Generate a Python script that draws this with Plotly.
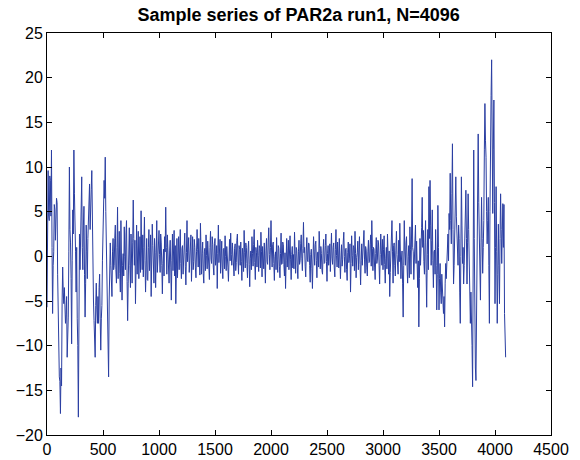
import plotly.graph_objects as go

# Sample series (N=4096), every 5th sample.
values_0000_0595 = [
    -5.7, 3.0, 9.6, 4.5, 4.0, 9.0, 8.5, 4.5, 11.9, 1.0, -6.4, -1.0, 0.5, 5.8, 5.2, 1.8, 3.7, 6.5, 6.0, -2.0,
    -8.3, -6.5, -13.5, -14.0, -17.6, -12.5, -14.5, -5.0, -1.2, -4.0, -5.3, -3.5, -4.9, -7.5, -6.5, -4.5, -11.3, -8.5, -6.8, 0.5,
    10.0, 3.0, 1.5, -2.5, -9.8, -0.5, 5.2, 2.5, 11.9, 7.0, 5.0, 0.5, -4.0, 1.0, -7.0, -10.0, -18.0, -9.0, 2.5, -1.5,
    2.8, 6.5, 8.9, 1.0, -1.5, 3.5, 5.6, -2.0, -6.8, -3.0, 3.5, 0.5, -2.5, 2.0, 4.0, 7.0, 8.1, 3.0, 4.5, 7.5,
    9.6, 3.0, 0.5, -5.0, -7.2, -9.5, -11.3, -5.5, -3.0, -6.0, -7.5, -4.5, -7.5, -3.5, -2.0, -7.0, -10.5, -7.0, -5.5, -0.5,
    2.5, 4.5, 8.5, 6.5, 11.1, 5.0, 1.5, -4.0, -7.2, -9.0, -13.5, -5.0, -1.5, 1.5, -1.0, -3.5, -4.5, 0.5, 2.0, -1.5,
]
values_0600_3495 = [
    -1.0, 2.0, 3.5, -1.5, -3.0, 1.0, 5.5, -2.5, 0.5, 2.8, -1.9, -4.0, 4.0, 1.2, -4.9, -1.0, 0.3, -2.2, 3.3, 0.0,
    -1.5, 2.5, 4.0, -2.8, -7.2, -3.0, 1.0, 3.2, -1.0, -3.5, 2.5, 0.2, -3.0, 1.5, 6.3, 2.0, -1.0, 1.8, -5.3, -1.2,
    3.5, -2.0, 0.0, 2.8, -2.5, -0.5, 2.2, -1.8, 5.1, 0.6, -1.5, 2.4, -2.3, 1.0, 4.4, -0.5, -4.0, -1.2, 2.0, -2.6,
    -2.7, 1.0, 3.0, -1.6, 0.5, 2.4, -4.5, -0.6, 3.6, 1.2, -0.8, -3.0, 2.0, 0.4, -3.5, 1.5, 4.0, -1.8, 0.3, 2.6,
    2.9, 0.2, -1.8, 2.5, 1.5, -1.0, -4.2, -0.8, 0.8, -2.2, 2.2, 0.5, 5.5, 1.0, -2.0, 2.4, 1.0, -1.5, -3.0, 0.6,
    1.8, -1.2, -4.9, -0.5, 2.5, -1.6, 0.0, 2.9, -2.2, 1.2, -5.3, -1.0, 2.0, -2.4, 0.5, 2.2, -1.5, 0.8, 3.0, -0.8,
    -2.5, 0.9, 1.2, -2.0, -0.5, 1.4, 2.6, -1.1, -3.2, 0.4, 4.0, -0.6, 0.8, 2.1, -1.8, -0.2, 1.5, 2.4, -2.8, 0.7,
    2.2, -1.5, -0.6, 1.9, 1.0, -1.3, -2.4, 0.5, 3.0, 0.8, -1.2, 2.0, 0.4, -2.1, 3.7, 1.1, -2.0, 0.3, 1.6, -1.9,
    -3.0, 0.5, 0.9, -1.6, 2.4, 0.1, -1.4, 1.7, 0.2, -0.9, -2.6, 1.0, 2.8, -0.3, -0.8, 2.2, 1.3, -1.2, -2.1, 1.4,
    2.0, -1.0, -0.4, 1.2, -3.6, 0.3, 3.5, -0.7, 0.6, 1.9, -1.9, 0.4, 1.7, -1.2, -2.5, 0.8, 0.9, -1.4, 2.3, 0.0,
    -1.6, 1.1, 0.3, -1.2, -2.8, 0.6, 1.9, -0.5, 2.6, 0.2, -1.0, 1.5, 0.5, -1.1, -2.2, 0.9, 1.4, -1.6, -0.7, 1.8,
    2.5, -0.3, -2.0, 1.2, 0.8, -1.0, 1.6, -0.6, -2.7, 0.9, 0.2, -1.7, 2.9, 0.4, -1.3, 1.5, 1.0, -0.8, -2.4, 0.7,
    1.7, -0.9, -3.4, -0.2, 0.6, -1.5, 2.2, 0.3, -1.1, 1.3, 3.0, -0.7, -2.6, 1.0, 0.4, -1.2, 1.8, 0.1, -1.7, 1.2,
    0.9, -1.3, 2.7, 0.5, -2.3, 1.1, 0.1, -1.4, 1.5, -0.2, -3.0, 0.7, 2.0, -0.6, -0.9, 1.6, 3.2, 0.2, -1.5, 1.0,
    4.0, 0.6, -1.2, 1.3, 1.6, -0.8, -2.7, 0.0, 0.5, -1.5, 2.1, -0.4, -1.8, 1.2, 0.9, -1.1, -2.4, 0.3, 2.6, -0.9,
    -0.8, 1.6, 1.3, -0.9, -2.2, 0.4, -3.6, -0.5, 2.0, -1.2, 0.4, 1.8, -1.5, 0.7, 2.3, -0.4, -2.6, 0.2, 1.1, -1.3,
    0.2, -1.4, 2.7, 0.3, -1.9, 1.0, 0.7, -1.3, -2.5, 0.5, 1.8, -0.9, -0.5, 1.4, 2.4, -0.2, -1.6, 0.9, 3.8, 0.4,
    1.0, -1.1, -2.3, 0.6, 2.1, -0.4, -0.6, 1.5, 1.4, -1.0, -2.9, 0.2, 0.8, -1.4, -3.6, -0.3, 2.2, 0.5, -1.0, 1.3,
    1.7, -0.5, -2.4, 0.4, 0.5, -1.2, 2.8, 0.9, -1.4, 1.1, 0.3, -1.6, -2.0, 0.6, 1.9, -0.8, -0.7, 1.2, 2.5, -0.6,
    -2.8, 0.3, 1.2, -1.0, 0.0, 1.4, -1.7, 0.5, 2.6, -0.2, -0.9, 1.0, 1.5, -1.3, -2.3, 0.8, 3.0, 0.1, -1.2, 1.6,
    0.6, -1.3, 2.0, 0.2, -2.5, -0.4, 1.3, -1.1, -0.4, 1.6, 2.7, 0.0, -1.8, 0.8, 0.9, -1.5, -2.7, 0.4, 1.6, -0.7,
    -0.2, 1.4, -4.0, -0.8, 2.3, 0.1, -1.1, 1.2, 1.0, -1.6, 2.8, 0.3, -2.4, -0.1, 0.4, 1.7, -1.5, 0.6, 2.2, -0.9,
    -3.2, -0.5, 1.4, -1.0, 0.2, 1.6, 2.9, -0.4, -1.9, 1.1, 0.7, -1.3, -2.2, 0.5, 1.8, -0.7, -0.6, 1.3, 2.4, -1.1,
    4.0, 0.9, -1.6, 1.0, 0.8, -1.2, -2.6, 0.3, 2.1, -0.8, -0.3, 1.8, 1.5, -1.0, -3.1, 0.2, 2.5, 0.6, -1.0, 1.9,
    -1.5, 0.8, 2.3, -0.9, -3.0, -0.2, 1.0, -1.4, 2.5, 0.3, -2.0, 0.6, -4.5, -1.8, 0.8, 2.0, 4.0, 0.5, -3.0, 1.2,
    1.5, -1.0, -2.2, 0.7, 2.8, 0.2, -0.5, -2.0, 1.8, -0.6, 3.7, 0.9, -2.5, -0.3, 0.6, -3.0, -6.8, -1.0, 4.0, 0.5,
    -1.0, 1.5, 2.2, -1.2, -3.0, 0.0, 1.2, -2.4, 3.3, 0.8, -2.0, 2.5, 8.7, 1.0, 0.5, -2.6, -1.2, 1.6, 3.5, -0.8,
    1.7, -1.2, -3.5, -0.5, -7.9, -2.5, 2.0, -1.0, 0.5, 3.2, 6.6, 1.0, 2.9, -0.6, -2.0, 1.5, 4.0, -1.8, -5.7, 0.2,
    3.0, -1.5, 7.8, 2.0, 8.5, 3.5, -1.0, 1.8, 5.2, -0.5, -3.5, 0.5, 0.7, -2.0, 3.0, -1.0, -6.0, -2.0, 5.7, 1.0,
]
values_3500_4095 = [
    -6.0, -2.5, -0.8, -4.0, -5.3, -2.0, -3.5, -5.5, -6.4, -4.5, -7.9, -3.0, -0.8, -2.5, 0.0, 1.5, 2.5, -0.5, 4.8, 3.0,
    9.3, 4.0, 1.4, 7.0, 12.6, 3.0, -3.1, -1.0, 1.4, 5.0, 8.9, 4.5, 2.9, 0.5, -1.0, 3.5, 2.0, -4.0, -7.5, 0.0,
    8.9, 3.5, -0.8, 1.0, -3.1, -1.0, 2.0, 4.5, 7.4, 2.0, -3.1, 1.5, 7.0, 3.0, -2.0, -5.0, -7.5, -4.0, -6.0, -10.0,
    -14.6, -2.0, 11.9, 2.0, -9.0, -12.5, -13.9, -6.0, 1.0, 8.0, 13.7, 6.0, 1.4, -2.0, -4.9, 1.5, 6.6, 2.0, -1.9, 1.0,
    4.0, 12.0, 17.1, 13.0, 11.1, 5.0, 1.4, 4.0, 6.6, -1.0, -7.5, 5.0, 15.6, 18.0, 22.0, 11.0, 4.8, 12.0, 17.5, 6.0,
    -5.3, 1.0, 7.8, 0.5, -7.5, -2.0, 3.6, -1.0, -5.3, 2.0, 7.0, 3.0, -0.8, 2.5, 5.9, 1.0, 5.8, -6.4, -9.0, -11.3,
]
sample_step = 5
series = values_0000_0595 + values_0600_3495 + values_3500_4095
sample_index = [i * sample_step for i in range(len(series))]

title_text = "Sample series of PAR2a run1, N=4096"
x_ticks = [0, 500, 1000, 1500, 2000, 2500, 3000, 3500, 4000, 4500]
y_ticks = [-20, -15, -10, -5, 0, 5, 10, 15, 20, 25]

fig = go.Figure(go.Scatter(
    x=sample_index, y=series, mode="lines",
    line=dict(color="rgb(42,62,162)", width=1),
    hoverinfo="skip",
))

axis_common = dict(
    showline=True, linecolor="black", linewidth=1, mirror="ticks",
    ticks="inside", ticklen=5, tickcolor="black", tickwidth=1,
    showgrid=False, zeroline=False, automargin=False,
    tickfont=dict(family="Liberation Sans, Arial, sans-serif", size=16, color="black"),
)
fig.update_xaxes(range=[0, 4500], tickvals=x_ticks, **axis_common)
fig.update_yaxes(range=[-20, 25], tickvals=y_ticks,
                 ticktext=[str(v).replace("-", "\u2212") for v in y_ticks], **axis_common)

fig.update_layout(
    width=580, height=460,
    margin=dict(l=47, r=29, t=33, b=25),
    paper_bgcolor="white", plot_bgcolor="white",
    showlegend=False,
    title=dict(text="<b>" + title_text + "</b>", x=0.515, xanchor="center",
               y=0.967, yanchor="middle",
               font=dict(family="Liberation Sans, Arial, sans-serif", size=18, color="black")),
)
fig.write_html("out.html")
